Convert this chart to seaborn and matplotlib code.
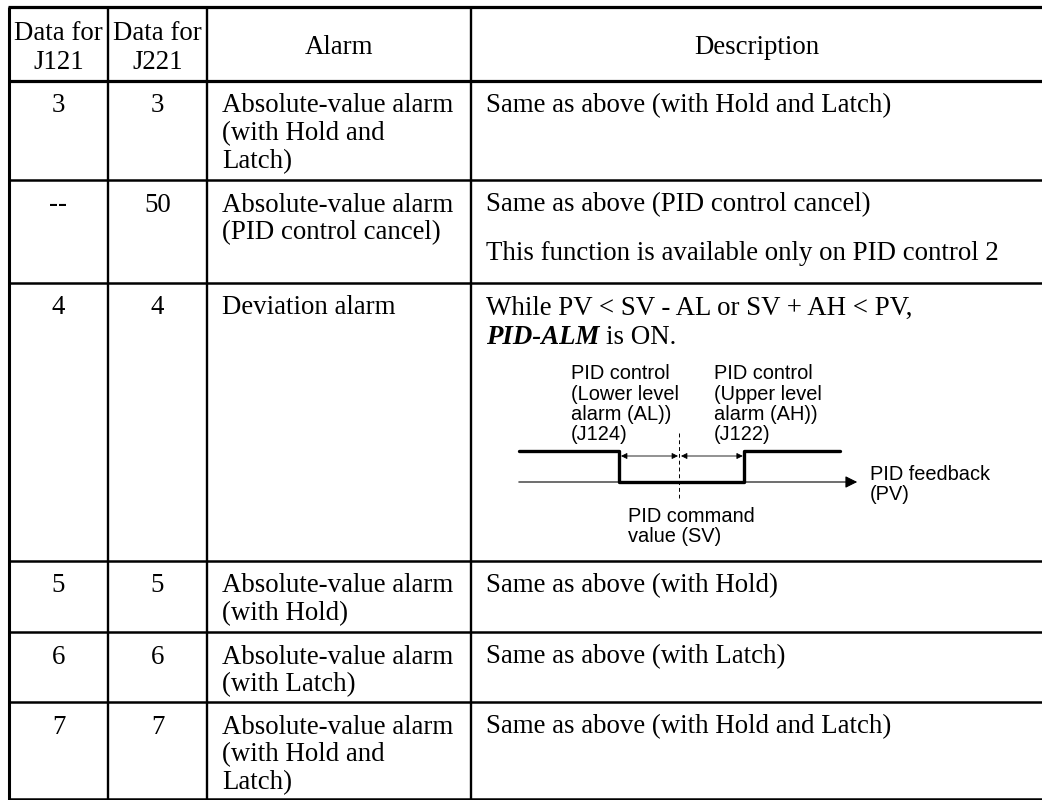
import matplotlib.pyplot as plt
import seaborn as sns

# Table contents
data_j121 = ["3", "--", "4", "5", "6", "7"]
data_j221 = ["3", "50", "4", "5", "6", "7"]
alarm_names = [
    ["Absolute-value alarm", "(with Hold and", "Latch)"],
    ["Absolute-value alarm", "(PID control cancel)"],
    ["Deviation alarm"],
    ["Absolute-value alarm", "(with Hold)"],
    ["Absolute-value alarm", "(with Latch)"],
    ["Absolute-value alarm", "(with Hold and", "Latch)"],
]
# each description is a list of paragraphs, each paragraph a list of lines
descriptions = [
    [["Same as above (with Hold and Latch)"]],
    [["Same as above (PID control cancel)"],
     ["This function is available only on PID control 2"]],
    [["While PV < SV - AL or SV + AH < PV,"]],
    [["Same as above (with Hold)"]],
    [["Same as above (with Latch)"]],
    [["Same as above (with Hold and Latch)"]],
]
header_j121 = ["Data for", "J121"]
header_j221 = ["Data for", "J221"]
header_alarm = "Alarm"
header_desc = "Description"
signal_name = "PID-ALM"
signal_tail = "is ON."

# Deviation alarm sketch (PV relative to SV, in units of the AL band)
pv_points = [-2.67, -1.0, 1.08, 2.68]
alarm_out = [1, 0, 1, 1]
pv_axis_end = 2.97
al_labels = ["PID control", "(Lower level", "alarm (AL))", "(J124)"]
ah_labels = ["PID control", "(Upper level", "alarm (AH))", "(J122)"]
pv_labels = ["PID feedback", "(PV)"]
sv_labels = ["PID command", "value (SV)"]

# layout (pixels)
W, H = 1042, 800
col_x = [9, 108, 207, 471]
row_y = [7, 81, 180, 283, 561, 632, 702, 799]
LINE = 28
FIRST = 31.5
PARA = 48
SERIF = ["Liberation Serif", "DejaVu Serif"]
SANS = ["Liberation Sans", "DejaVu Sans"]
FS = 19.4
FS_SMALL = 14.4

sns.set_theme(style="white")
plt.rcParams['font.family'] = SERIF
plt.rcParams['text.color'] = 'black'

fig = plt.figure(figsize=(W / 100, H / 100), dpi=100)
ax = fig.add_axes([0, 0, 1, 1])
ax.set_xlim(0, W)
ax.set_ylim(H, 0)
ax.axis('off')

# rules
for i, y in enumerate(row_y):
    lw = 2.3 if i < 2 else 1.8
    ax.hlines(y, col_x[0] - 1.2, W, color='black', lw=lw)
for x in col_x:
    lw = 2.2 if x == col_x[0] else 1.7
    ax.vlines(x, row_y[0], H, color='black', lw=lw)

c1 = (col_x[0] + col_x[1]) / 2
c2 = (col_x[1] + col_x[2]) / 2
c3 = (col_x[2] + col_x[3]) / 2
c4 = (col_x[3] + W) / 2
x_alarm = col_x[2] + 15
x_desc = col_x[3] + 15

# header
for k, (a, b) in enumerate(zip(header_j121, header_j221)):
    y = 40 + k * 29
    ax.text(c1, y, a, ha='center', va='baseline', fontsize=FS)
    ax.text(c2, y, b, ha='center', va='baseline', fontsize=FS)
ax.text(c3, 54, header_alarm, ha='center', va='baseline', fontsize=FS)
ax.text(c4, 54, header_desc, ha='center', va='baseline', fontsize=FS)

# body rows
for r in range(len(data_j121)):
    top = row_y[r + 1]
    y0 = top + FIRST
    ax.text(c1, y0, data_j121[r], ha='center', va='baseline', fontsize=FS)
    ax.text(c2, y0, data_j221[r], ha='center', va='baseline', fontsize=FS)
    for k, line in enumerate(alarm_names[r]):
        ax.text(x_alarm, y0 + k * LINE, line, ha='left', va='baseline', fontsize=FS)
    y = y0
    for p, para in enumerate(descriptions[r]):
        if p > 0:
            y += PARA
        for k, line in enumerate(para):
            ax.text(x_desc, y + k * LINE, line, ha='left', va='baseline', fontsize=FS)

# "PID-ALM is ON." line in the deviation alarm row
y_on = row_y[3] + FIRST + 30
t1 = ax.text(x_desc, y_on, signal_name, ha='left', va='baseline', fontsize=FS,
             fontweight='bold', fontstyle='italic')
fig.canvas.draw()
bb = t1.get_window_extent()
x_end = ax.transData.inverted().transform((bb.x1, bb.y0))[0]
ax.text(x_end + 6.5, y_on, signal_tail, ha='left', va='baseline', fontsize=FS)

# sketch of the deviation alarm
SV_X, UNIT = 679, 60
HIGH_Y, LOW_Y = 451, 482


def px(v):
    return SV_X + v * UNIT


def py(s):
    return LOW_Y - s * (LOW_Y - HIGH_Y)


# PV axis with arrow
ax.annotate("", xy=(px(pv_axis_end), LOW_Y), xytext=(px(pv_points[0]), LOW_Y),
            arrowprops=dict(arrowstyle='-|>', lw=0.8, color='black',
                            mutation_scale=18, shrinkA=0, shrinkB=0))
# alarm output
sns.lineplot(x=[px(v) for v in pv_points], y=[py(s) for s in alarm_out],
             drawstyle='steps-post', color='black', lw=2.4, ax=ax, legend=False)
# SV dashed marker
ax.vlines(px(0), 433, 498, color='black', lw=0.7, linestyles=(0, (4, 3)))
# AL / AH spans
for a, b in [(px(-1.0), px(0)), (px(0), px(pv_points[2]))]:
    ax.annotate("", xy=(b - 1, 456), xytext=(a + 2, 456),
                arrowprops=dict(arrowstyle='<|-|>', lw=0.6, color='black',
                                mutation_scale=9, shrinkA=0, shrinkB=0))

SP = 20.5
for k, line in enumerate(al_labels):
    ax.text(571, 379 + k * SP, line, family=SANS, fontsize=FS_SMALL, va='baseline')
for k, line in enumerate(ah_labels):
    ax.text(714, 379 + k * SP, line, family=SANS, fontsize=FS_SMALL, va='baseline')
for k, line in enumerate(pv_labels):
    ax.text(870, 480 + k * SP, line, family=SANS, fontsize=FS_SMALL, va='baseline')
for k, line in enumerate(sv_labels):
    ax.text(628, 522 + k * SP, line, family=SANS, fontsize=FS_SMALL, va='baseline')

fig.savefig("out.png", dpi=100, facecolor='white')
